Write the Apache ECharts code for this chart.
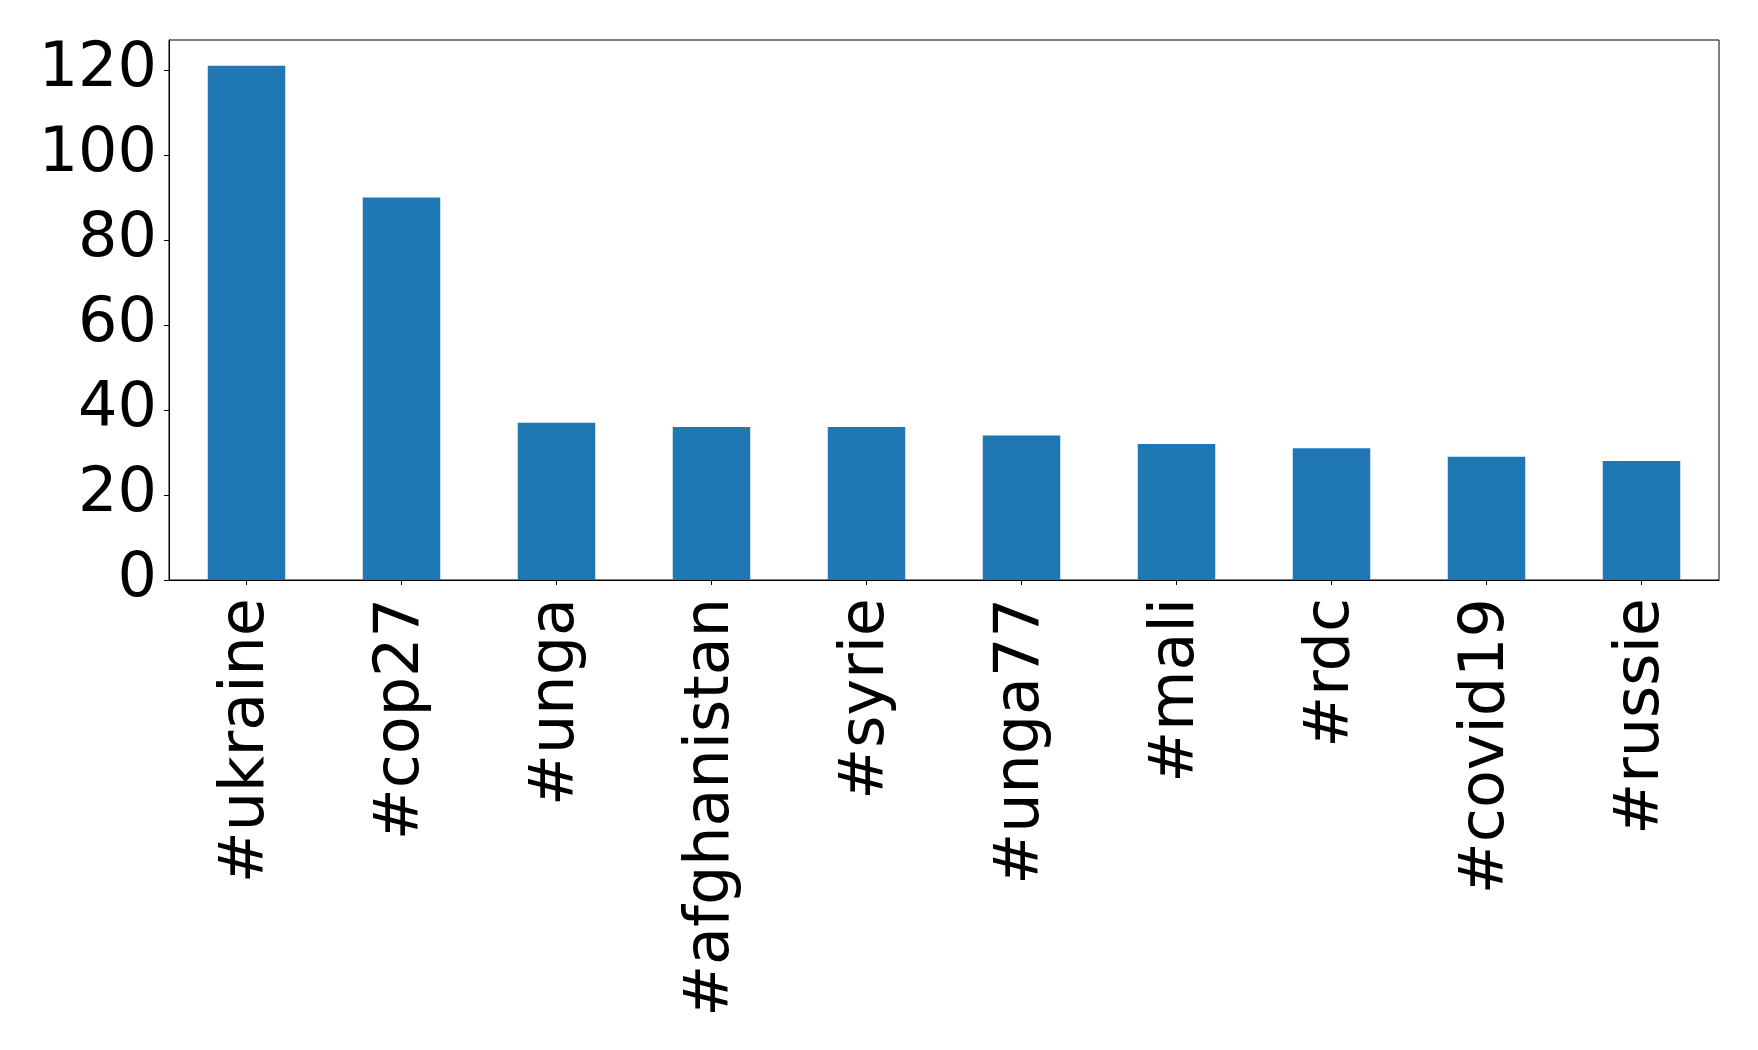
<!DOCTYPE html>
<html>
<head>
<meta charset="utf-8">
<script src="https://cdn.jsdelivr.net/npm/echarts@6/dist/echarts.min.js"></script>
<style>
html,body{margin:0;padding:0;background:#fff;}
#chart{width:1758px;height:1050px;}
</style>
</head>
<body>
<div id="chart"></div>
<script>
const categories = ['#ukraine', '#cop27', '#unga', '#afghanistan', '#syrie', '#unga77', '#mali', '#rdc', '#covid19', '#russie'];
const counts = [121, 90, 37, 36, 36, 34, 32, 31, 29, 28];
const yTicks = [0, 20, 40, 60, 80, 100, 120];

const chart = echarts.init(document.getElementById('chart'), null, {renderer: 'canvas'});
const font = 'DejaVu Sans';
chart.setOption({
  animation: false,
  backgroundColor: '#ffffff',
  grid: {
    left: 169, right: 39, top: 40, bottom: 470,
    show: true, borderColor: '#000000', borderWidth: 1, backgroundColor: 'transparent'
  },
  xAxis: {
    type: 'category',
    data: categories,
    boundaryGap: true,
    axisLine: {show: true, lineStyle: {color: '#000000', width: 1}},
    axisTick: {show: true, alignWithLabel: true, length: 5, lineStyle: {color: '#000000', width: 1}},
    axisLabel: {
      rotate: 90, margin: 18, interval: 0, padding: [8, 0, 0, 0],
      color: '#000000', fontFamily: font, fontSize: 62
    },
    splitLine: {show: false}
  },
  yAxis: {
    type: 'value',
    min: 0,
    max: 127.05,
    axisLine: {show: true, lineStyle: {color: '#000000', width: 1}},
    axisTick: {show: true, length: 5, lineStyle: {color: '#000000', width: 1}, customValues: yTicks},
    axisLabel: {
      margin: 12, color: '#000000', fontFamily: font, fontSize: 62,
      customValues: yTicks
    },
    splitLine: {show: false}
  },
  series: [{
    type: 'bar',
    data: counts,
    barWidth: '50%',
    itemStyle: {color: '#1f77b4'}
  }]
});
</script>
</body>
</html>
